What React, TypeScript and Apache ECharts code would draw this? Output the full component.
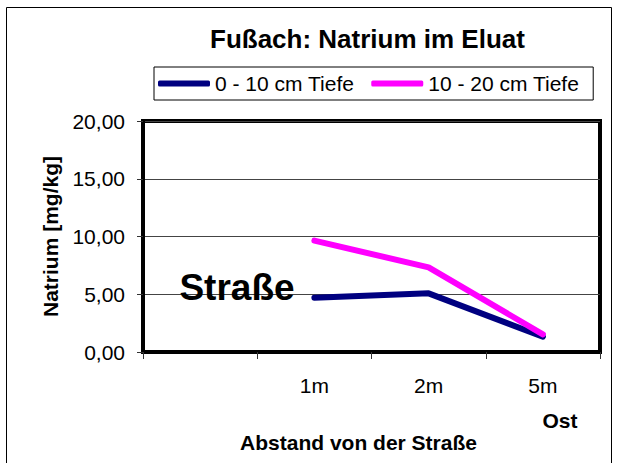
import React, { useEffect, useRef } from "react";
import * as echarts from "echarts";

const categories = ["", "1m", "2m", "5m"];
const seriesNames = ["0 - 10 cm Tiefe", "10 - 20 cm Tiefe"];
const depth0to10 = [null, 4.7, 5.08, 1.32];
const depth10to20 = [null, 9.64, 7.33, 1.53];
const yTicks = { min: 0, max: 20, interval: 5 };

const FONT = "'Liberation Sans', Arial, sans-serif";

export default function App() {
  const ref = useRef<HTMLDivElement>(null);
  useEffect(() => {
    if (!ref.current) return;
    const chart = echarts.init(ref.current, null, { renderer: "svg" });
    chart.setOption({
      animation: false,
      backgroundColor: "#fff",
      textStyle: { fontFamily: FONT },
      title: {
        text: "Fußach: Natrium im Eluat",
        left: 210,
        top: 26,
        padding: 0,
        textStyle: { fontFamily: FONT, fontSize: 26, fontWeight: "bold", color: "#000" },
      },
      legend: {
        data: seriesNames,
        left: 154,
        top: 67,
        padding: [6, 14, 6, 4],
        itemGap: 17,
        itemWidth: 52,
        itemHeight: 6,
        icon: "roundRect",
        borderColor: "#000",
        borderWidth: 1,
        textStyle: { fontFamily: FONT, fontSize: 21, color: "#000" },
      },
      grid: {
        left: 143,
        top: 121,
        width: 457,
        height: 231,
        show: true,
        borderColor: "#000",
        borderWidth: 4,
        backgroundColor: "#fff",
      },
      xAxis: {
        type: "category",
        data: categories,
        boundaryGap: true,
        name: "Abstand von der Straße",
        nameLocation: "middle",
        nameGap: 80,
        nameTextStyle: {
          fontFamily: FONT,
          fontSize: 21,
          fontWeight: "bold",
          color: "#000",
          padding: [0, 26, 0, 0],
        },
        axisLine: { lineStyle: { color: "#000", width: 4 } },
        axisTick: { show: true, length: 7, lineStyle: { color: "#333", width: 1 } },
        axisLabel: { fontFamily: FONT, fontSize: 21, color: "#000", margin: 23 },
        splitLine: { show: false },
      },
      yAxis: {
        type: "value",
        min: yTicks.min,
        max: yTicks.max,
        interval: yTicks.interval,
        name: "Natrium [mg/kg]",
        nameLocation: "middle",
        nameRotate: 90,
        nameGap: 82,
        nameTextStyle: { fontFamily: FONT, fontSize: 21, fontWeight: "bold", color: "#000" },
        axisLine: { show: true, lineStyle: { color: "#000", width: 4 } },
        axisTick: { show: true, length: 6, lineStyle: { color: "#333", width: 1 } },
        axisLabel: {
          fontFamily: FONT,
          fontSize: 21,
          color: "#000",
          margin: 18,
          formatter: (v: number) => v.toFixed(2).replace(".", ","),
        },
        splitLine: { show: true, lineStyle: { color: "#444", width: 1 } },
      },
      series: [
        {
          name: seriesNames[0],
          type: "line",
          data: depth0to10,
          symbol: "none",
          color: "#000080",
          lineStyle: { color: "#000080", width: 6, cap: "round", join: "round" },
        },
        {
          name: seriesNames[1],
          type: "line",
          data: depth10to20,
          symbol: "none",
          color: "#FF00FF",
          lineStyle: { color: "#FF00FF", width: 6, cap: "round", join: "round" },
        },
      ],
      graphic: [
        {
          type: "rect",
          shape: { x: 6.5, y: 7.5, width: 605, height: 480 },
          style: { fill: "none", stroke: "#000", lineWidth: 1 },
          silent: true,
          z: 100,
        },
        {
          type: "text",
          x: 237,
          y: 287,
          style: {
            text: "Straße",
            fontFamily: FONT,
            fontSize: 37,
            fontWeight: "bold",
            fill: "#000",
            align: "center",
            verticalAlign: "middle",
          },
          z: 100,
        },
        {
          type: "text",
          x: 560,
          y: 420,
          style: {
            text: "Ost",
            fontFamily: FONT,
            fontSize: 21,
            fontWeight: "bold",
            fill: "#000",
            align: "center",
            verticalAlign: "middle",
          },
          z: 100,
        },
      ],
    });
    return () => chart.dispose();
  }, []);
  return (
    <div
      ref={ref}
      style={{ position: "fixed", left: 0, top: 0, width: 618, height: 463 }}
    />
  );
}
